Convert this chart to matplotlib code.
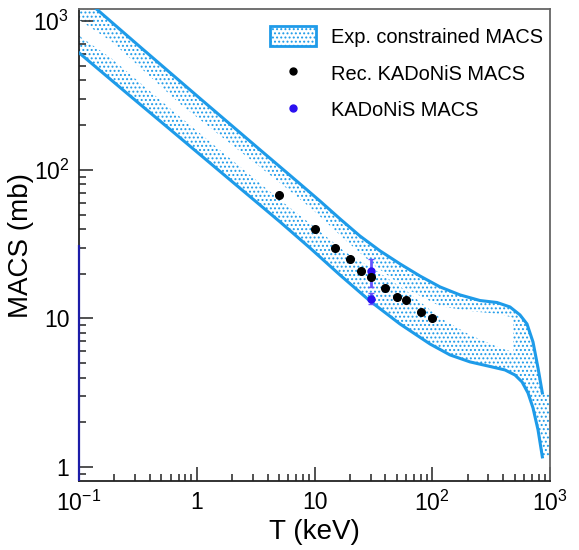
import numpy as np
import matplotlib.pyplot as plt
from matplotlib.patches import Patch
from matplotlib.lines import Line2D
from matplotlib.ticker import LogLocator, NullFormatter

plt.rcParams['font.family'] = ['Liberation Sans', 'DejaVu Sans']
plt.rcParams['mathtext.fontset'] = 'custom'
plt.rcParams['mathtext.rm'] = 'Liberation Sans'
plt.rcParams['mathtext.it'] = 'Liberation Sans:italic'
plt.rcParams['hatch.linewidth'] = 0.9

# upper / lower edge of the experimentally constrained band (T in keV, MACS in mb)
upper_T = [0.1, 0.330, 1.10, 3.45, 7.53, 11.1, 16.47, 24.3, 36.0, 53.2, 78.7, 116.4,
           172.1, 254.5, 354.6, 457, 556, 637.7, 717, 791, 861]
upper_macs = [1531, 673, 296, 136.4, 80.5, 61.8, 46.8, 35.9, 28.5, 23.3, 19.3, 16.3,
              14.4, 13.2, 12.8, 11.95, 10.56, 9.18, 6.95, 4.64, 3.15]
lower_T = [0.1, 0.271, 0.722, 1.916, 5.09, 9.16, 16.47, 29.6, 53.2, 95.7, 141.5, 209,
           309.4, 414.8, 504.6, 578.5, 650.6, 717, 791, 861]
lower_macs = [614, 315, 164.3, 85.7, 44.7, 29.8, 19.6, 13.1, 9.18, 6.73, 5.68, 5.10,
              4.75, 4.50, 4.16, 3.74, 3.15, 2.50, 1.78, 1.17]
band_end_T = 1000

# unshaded stripe inside the band
stripe_T = [0.1, 0.1907, 0.722, 5.09, 9.71, 18.2, 32.6, 58.7, 116.4, 209, 376, 485]
stripe_top = [1023, 728, 278, 81.8, 53.8, 33.8, 22.6, 16.0, 12.1, 11.2, 10.7, 10.1]
stripe_bottom = [799, 559, 227, 62.8, 42.0, 28.0, 21.2, 15.6, 10.1, 7.74, 6.33, 5.94]

# recommended KADoNiS MACS
rec_T = [5, 10, 15, 20, 25, 30, 40, 50, 60, 80, 100]
rec_macs = [68, 40, 30, 25, 21, 19, 16, 14, 13.3, 11, 10]

# KADoNiS MACS at 30 keV
kad_T = [30, 30]
kad_macs = [21, 13.6]
kad_err_low = [4.7, 1.1]
kad_err_high = [4.3, 1.3]
left_bar_top = 31

x_ticks = [0.1, 1, 10, 100, 1000]
x_labels = ['$10^{-1}$', '1', '10', '$10^{2}$', '$10^{3}$']
y_ticks = [1, 10, 100, 1000]
y_labels = ['1', '10', '$10^{2}$', '$10^{3}$']

band_color = '#1e9be9'
kad_color = '#2a10f0'

fig = plt.figure(figsize=(5.79, 5.50), dpi=100)
ax = fig.add_axes([79 / 579, 1 - 481 / 550, 471 / 579, 472 / 550])
ax.set_xscale('log')
ax.set_yscale('log')
ax.set_xlim(0.1, 1000)
ax.set_ylim(0.805, 1210)

poly_T = upper_T + [band_end_T, band_end_T] + lower_T[::-1]
poly_macs = upper_macs + [upper_macs[-1], lower_macs[-1]] + lower_macs[::-1]
ax.fill(poly_T, poly_macs, facecolor='none', edgecolor=band_color,
        hatch='....', linewidth=0, zorder=1)
ax.fill(stripe_T + stripe_T[::-1], stripe_top + stripe_bottom[::-1],
        facecolor='white', edgecolor='none', zorder=2)
ax.plot(upper_T, upper_macs, color=band_color, lw=2.2, zorder=3)
ax.plot(lower_T, lower_macs, color=band_color, lw=2.2, zorder=3)

ax.vlines(0.1, 0.805, left_bar_top, color='#1c1ca8', lw=1.6, zorder=4, clip_on=False)
ax.errorbar(kad_T, kad_macs, yerr=[kad_err_low, kad_err_high], fmt='o',
            color=kad_color, ecolor='#6655ff', ms=5, elinewidth=2, capsize=2,
            zorder=5)
ax.plot(rec_T, rec_macs, 'o', color='black', ms=5.5, zorder=6)

ax.set_xticks(x_ticks)
ax.set_xticklabels(x_labels)
ax.set_yticks(y_ticks)
ax.set_yticklabels(y_labels)
ax.xaxis.set_minor_locator(LogLocator(base=10, subs=np.arange(2, 10) * 1.0, numticks=50))
ax.yaxis.set_minor_locator(LogLocator(base=10, subs=np.arange(2, 10) * 1.0, numticks=50))
ax.xaxis.set_minor_formatter(NullFormatter())
ax.yaxis.set_minor_formatter(NullFormatter())
ax.tick_params(which='both', direction='in', top=False, right=False,
               labelsize=16.5, width=1.2, color='#333333')
ax.tick_params(which='major', length=10, pad=7)
ax.tick_params(which='minor', length=5)
for side in ax.spines.values():
    side.set_linewidth(1.3)
    side.set_color('#222222')
ax.spines['top'].set_color('#666666')
ax.spines['right'].set_color('#666666')

ax.set_xlabel('T (keV)', fontsize=20, labelpad=2)
ax.set_ylabel('MACS (mb)', fontsize=20)
ax.yaxis.set_label_coords(-0.095, 0.5)

handles = [
    Patch(facecolor='white', edgecolor=band_color, hatch='....', lw=2),
    Line2D([], [], ls='none', marker='o', color='black', ms=5),
    Line2D([], [], ls='none', marker='o', color=kad_color, ms=5),
]
labels = ['Exp. constrained MACS', 'Rec. KADoNiS MACS', 'KADoNiS MACS']
ax.legend(handles, labels, loc='upper right', bbox_to_anchor=(1.0, 0.979),
          frameon=False, fontsize=14.4, handlelength=2.3, handleheight=1.2,
          labelspacing=0.78, handletextpad=0.75, borderaxespad=0, borderpad=0.35)

fig.savefig('out.png', dpi=100)
